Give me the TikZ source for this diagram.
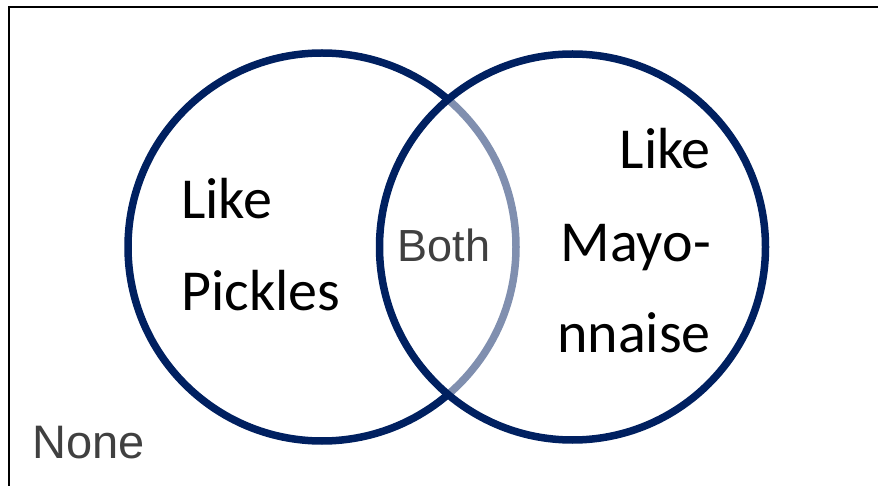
\documentclass[tikz,border=0pt]{standalone}
\usepackage{fontspec}
\newfontfamily\calibfont{Carlito}
\newfontfamily\arialfont{Liberation Sans}
\usetikzlibrary{positioning}
\definecolor{navy}{HTML}{002060}
\definecolor{txtgray}{HTML}{404040}

\begin{document}
\begin{tikzpicture}[x=1pt, y=1pt,
	ring/.style={draw=navy, circle, line width=7.5pt, inner sep=0pt},
	big/.style={font=\calibfont\fontsize{58}{92}\selectfont, inner sep=0pt},
	small/.style={font=\arialfont\fontsize{45}{54}\selectfont, text=txtgray, inner sep=0pt}]
\clip (0, 0) rectangle (878, 485);
\fill[white] (0, 0) rectangle (878, 485);
\draw[line width=1.3pt] (9, -20) rectangle (900, 478);
\node[ring, minimum size=388pt] (pickles) at (322, 238) {};
\node[ring, minimum size=386pt, fill=white, fill opacity=0.5] (mayo) at (572.5, 238) {};
% the last line sits on the anchor
\node[big, align=left, anchor=base west] (ptext) at (181, 175) {Like\\Pickles};
\node[big, align=right, anchor=base east] (mtext) at (711, 132) {Like\\Mayo-\\nnaise};
\node[small] (both) at (444, 240) {Both};
\node[small, font=\arialfont\fontsize{47}{56}\selectfont, anchor=base west] (none) at (32, 27) {None};
\end{tikzpicture}
\end{document}
